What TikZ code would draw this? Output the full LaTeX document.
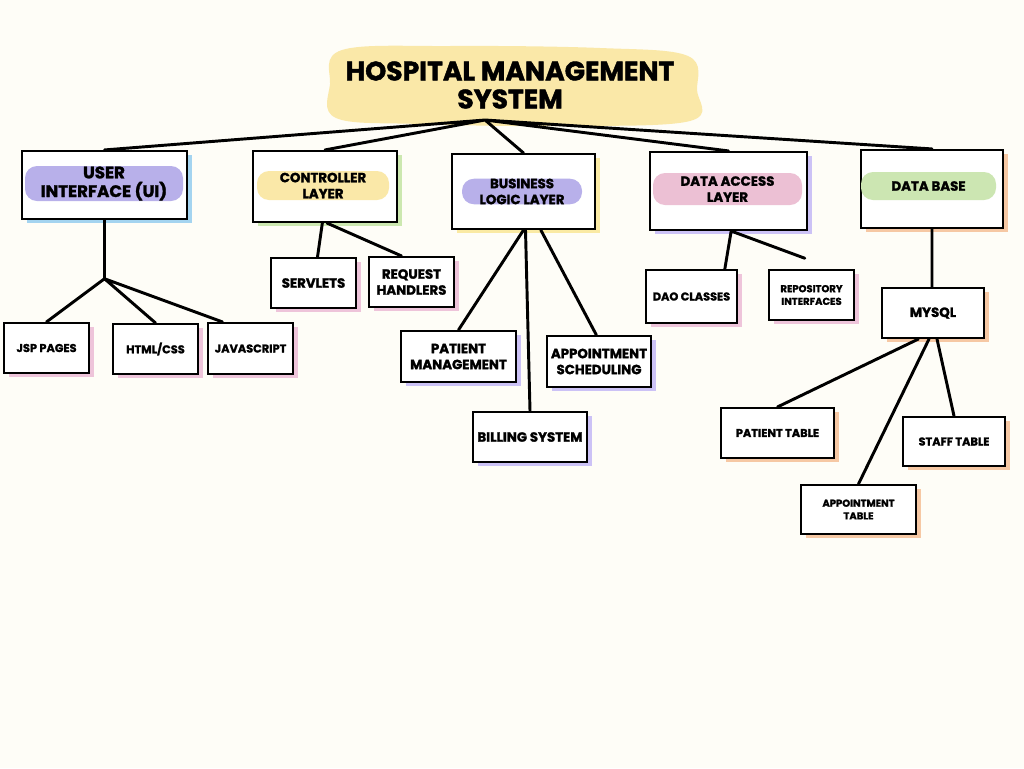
\documentclass[tikz,border=0pt]{standalone}
\usepackage{fontspec}
\setmainfont{Poppins}[BoldFeatures={FakeBold=1.6}]
\usetikzlibrary{shadows,positioning}
\definecolor{paper}{RGB}{254,253,247}
\definecolor{hlyellow}{RGB}{250,232,168}
\definecolor{hlpurple}{RGB}{184,176,234}
\definecolor{hlpink}{RGB}{236,192,212}
\definecolor{hlgreen}{RGB}{204,230,178}
\definecolor{shblue}{RGB}{164,212,240}
\definecolor{shgreen}{RGB}{204,232,176}
\definecolor{shyellow}{RGB}{250,234,164}
\definecolor{shpurple}{RGB}{204,194,246}
\definecolor{shpink}{RGB}{238,196,218}
\definecolor{shorange}{RGB}{246,200,164}

\begin{document}
\begin{tikzpicture}[
                    x=0.75pt,
                    y=-0.75pt,
                    link/.style={line width=2.2pt, line cap=round},
                    box/.style={draw, line width=1.6pt, fill=white, align=center, inner sep=0pt,
                                general shadow={fill=#1, shadow xshift=3.5pt, shadow yshift=-3pt}},
                    wh/.style 2 args={minimum width=#1*0.75pt, minimum height=#2*0.75pt},
                    hilite/.style={fill=#1, rounded corners=9pt, align=center, inner sep=0pt},
                    big/.style={font=\bfseries\fontsize{12.5}{14}\selectfont},
                    mid/.style={font=\bfseries\fontsize{10}{12}\selectfont},
                    small/.style={font=\bfseries\fontsize{8.5}{10}\selectfont},
                    tiny/.style={font=\bfseries\fontsize{7.5}{9.5}\selectfont}
                ]
                \fill[paper] (0,0) rectangle (1024,768);
                \useasboundingbox (0,0) rectangle (1024,768);

                \fill[hlyellow] plot[smooth cycle, tension=0.6] coordinates
                    {(342,50) (450,46) (600,48) (688,56) (697,90) (690,121) (560,126) (420,124) (336,118) (330,84)};
                \node[font=\bfseries\fontsize{20}{21}\selectfont, align=center] (title) at (510,85) {HOSPITAL MANAGEMENT\\SYSTEM};
                \coordinate (hub) at (485,120);

                \node[box=shblue, wh={165}{68}] (ui) at (104.5,185) {};
                \node[hilite=hlpurple, wh={158}{35}, big] (ui-lbl) at (104,183.5) {USER\\INTERFACE (UI)};
                \node[box=shgreen, wh={144}{71}] (ctrl) at (325,186.5) {};
                \node[hilite=hlyellow, wh={132}{29}, mid] (ctrl-lbl) at (323,185.5) {CONTROLLER\\LAYER};
                \node[box=shyellow, wh={143}{75}] (biz) at (523.5,191.5) {};
                \node[hilite=hlpurple, wh={120}{25}, mid] (biz-lbl) at (522,191.5) {BUSINESS\\LOGIC LAYER};
                \node[box=shpurple, wh={157}{78}] (dal) at (728.5,191) {};
                \node[hilite=hlpink, wh={149}{32}, mid] (dal-lbl) at (727.5,189) {DATA ACCESS\\LAYER};
                \node[box=shorange, wh={142}{78}] (db) at (932,189) {};
                \node[hilite=hlgreen, wh={135}{28}, mid] (db-lbl) at (928.5,186) {DATA BASE};

                \node[box=shpink, wh={85}{50}, small] (jsp) at (46.5,348) {JSP PAGES};
                \node[box=shpink, wh={85}{50}, small] (html) at (155.5,349) {HTML/CSS};
                \node[box=shpink, wh={85}{51}, small] (js) at (250.5,348.5) {JAVASCRIPT};
                \node[box=shpink, wh={85}{50}, mid] (servlets) at (313.5,283) {SERVLETS};
                \node[box=shpink, wh={85}{50}, mid] (handlers) at (411.5,282) {REQUEST\\HANDLERS};
                \node[box=shpurple, wh={115}{51}, mid] (patient) at (458.5,356.5) {PATIENT\\MANAGEMENT};
                \node[box=shpurple, wh={114}{50}, mid] (billing) at (530,437) {BILLING SYSTEM};
                \node[box=shpurple, wh={104}{51}, mid] (appt) at (599,361.5) {APPOINTMENT\\SCHEDULING};
                \node[box=shpink, wh={91}{53}, small] (dao) at (691.5,296.5) {DAO CLASSES};
                \node[box=shpink, wh={85}{50}, tiny] (repo) at (811.5,295) {REPOSITORY\\INTERFACES};
                \node[box=shorange, wh={102}{50}, mid] (mysql) at (933,313) {MYSQL};
                \node[box=shorange, wh={113}{50}, small] (ptable) at (777.5,433) {PATIENT TABLE};
                \node[box=shorange, wh={102}{49}, small] (stable) at (954,441.5) {STAFF TABLE};
                \node[box=shorange, wh={115}{49}, tiny] (atable) at (858.5,509.5) {APPOINTMENT\\TABLE};

                \coordinate[below=44pt of ui] (ui-fork);

                \draw[link]
                (hub) -- (ui.north)
                (hub) -- (ctrl.north)
                (hub) -- (biz.north)
                (hub) -- (dal.north)
                (hub) -- (db.north)
                (ui.south) -- (ui-fork)
                (ui-fork) -- (jsp.north)
                (ui-fork) -- (html.north)
                (ui-fork) -- ([xshift=-21pt]js.north)
                ([xshift=-2pt]ctrl.south) -- ([xshift=3pt]servlets.north)
                ([xshift=1.5pt]ctrl.south) -- ([xshift=-7.5pt]handlers.north)
                (biz.south) -- (patient.north)
                ([xshift=1.5pt]biz.south) -- (billing.north)
                ([xshift=13pt]biz.south) -- ([xshift=-2pt]appt.north)
                ([xshift=2pt]dal.south) -- ([xshift=25pt]dao.north)
                ([xshift=2pt]dal.south) -- ([xshift=-5pt,yshift=8pt]repo.north)
                (db.south) -- (db.south |- mysql.north)
                ([xshift=-11pt]mysql.south) -- (ptable.north)
                ([xshift=-3pt]mysql.south) -- (atable.north)
                ([xshift=3pt]mysql.south) -- (stable.north)
                ;
            \end{tikzpicture}
\end{document}
